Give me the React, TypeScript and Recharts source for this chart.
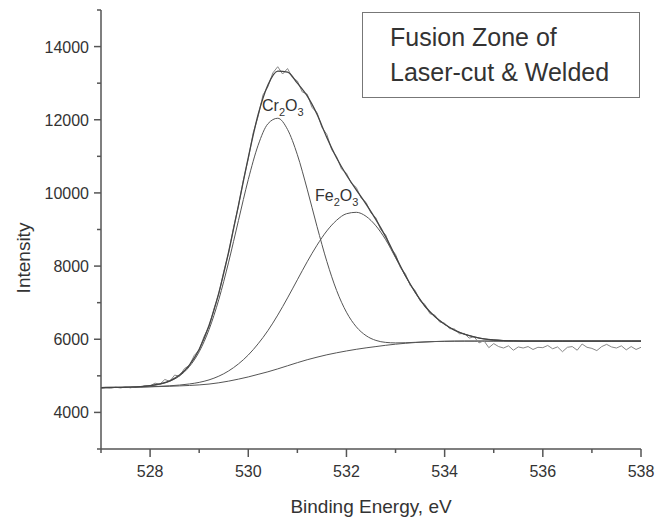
import { LineChart, Line, XAxis, YAxis, ReferenceDot } from "recharts"

// measured spectrum, 0.1 eV steps
const rawEnergy = [
  527.0, 527.1, 527.2, 527.3, 527.4, 527.5, 527.6, 527.7, 527.8, 527.9,
  528.0, 528.1, 528.2, 528.3, 528.4, 528.5, 528.6, 528.7, 528.8, 528.9,
  529.0, 529.1, 529.2, 529.3, 529.4, 529.5, 529.6, 529.7, 529.8, 529.9,
  530.0, 530.1, 530.2, 530.3, 530.4, 530.5, 530.6, 530.7, 530.8, 530.9,
  531.0, 531.1, 531.2, 531.3, 531.4, 531.5, 531.6, 531.7, 531.8, 531.9,
  532.0, 532.1, 532.2, 532.3, 532.4, 532.5, 532.6, 532.7, 532.8, 532.9,
  533.0, 533.1, 533.2, 533.3, 533.4, 533.5, 533.6, 533.7, 533.8, 533.9,
  534.0, 534.1, 534.2, 534.3, 534.4, 534.5, 534.6, 534.7, 534.8, 534.9,
  535.0, 535.1, 535.2, 535.3, 535.4, 535.5, 535.6, 535.7, 535.8, 535.9,
  536.0, 536.1, 536.2, 536.3, 536.4, 536.5, 536.6, 536.7, 536.8, 536.9,
  537.0, 537.1, 537.2, 537.3, 537.4, 537.5, 537.6, 537.7, 537.8, 537.9,
  538.0,
]
const rawIntensity = [
  4650, 4672, 4660, 4690, 4668, 4700, 4672, 4705, 4690, 4735,
  4725, 4800, 4770, 4900, 4850, 5020, 4990, 5200, 5280, 5560,
  5700, 6080, 6340, 6830, 7240, 7850, 8360, 9050, 9640, 10350,
  10930, 11640, 12090, 12680, 12900, 13280, 13450, 13250, 13400, 13150,
  13060, 12760, 12700, 12330, 12200, 11790, 11600, 11180, 10990, 10650,
  10540, 10260, 10150, 9860, 9740, 9450, 9320, 8990, 8850, 8490,
  8320, 7960, 7790, 7470, 7330, 7050, 6950, 6700, 6660, 6470,
  6440, 6290, 6280, 6150, 6160, 6030, 6070, 5900, 5960, 5770,
  5880, 5800, 5760, 5820, 5700, 5790, 5760, 5800, 5720, 5780,
  5770, 5830, 5740, 5790, 5660, 5780, 5800, 5700, 5870, 5780,
  5750, 5690, 5800, 5860, 5790, 5760, 5820, 5710, 5800, 5720,
  5780,
]

// fitted curves, 0.2 eV steps
const fitEnergy = [
  527.0, 527.2, 527.4, 527.6, 527.8, 528.0, 528.2, 528.4, 528.6, 528.8,
  529.0, 529.2, 529.4, 529.6, 529.8, 530.0, 530.2, 530.4, 530.6, 530.8,
  531.0, 531.2, 531.4, 531.6, 531.8, 532.0, 532.2, 532.4, 532.6, 532.8,
  533.0, 533.2, 533.4, 533.6, 533.8, 534.0, 534.2, 534.4, 534.6, 534.8,
  535.0, 535.2, 535.4, 535.6, 535.8, 536.0, 536.2, 536.4, 536.6, 536.8,
  537.0, 537.2, 537.4, 537.6, 537.8, 538.0,
]
const envelopeFit = [
  4680, 4682, 4685, 4691, 4704, 4730, 4777, 4863, 5021, 5294,
  5727, 6376, 7268, 8388, 9662, 10965, 12136, 12950, 13330, 13300,
  13000, 12650, 12150, 11514, 10955, 10490, 10085, 9693, 9268, 8799,
  8265, 7744, 7286, 6902, 6620, 6410, 6250, 6140, 6065, 6010,
  5980, 5963, 5955, 5950, 5950, 5950, 5950, 5950, 5950, 5950,
  5950, 5950, 5950, 5950, 5950, 5950,
]
const cr2o3Fit = [
  4680, 4682, 4685, 4691, 4703, 4727, 4770, 4850, 4998, 5253,
  5658, 6262, 7087, 8109, 9246, 10366, 11301, 11890, 12041, 11734,
  11043, 10104, 9083, 8128, 7332, 6739, 6340, 6098, 5968, 5914,
  5900, 5904, 5916, 5927, 5938, 5944, 5948, 5950, 5950, 5950,
  5950, 5950, 5950, 5950, 5950, 5950, 5950, 5950, 5950, 5950,
  5950, 5950, 5950, 5950, 5950, 5950,
]
const fe2o3Fit = [
  4680, 4682, 4684, 4687, 4693, 4703, 4714, 4728, 4748, 4778,
  4821, 4889, 4991, 5134, 5326, 5569, 5875, 6236, 6660, 7130,
  7626, 8117, 8571, 8961, 9253, 9431, 9470, 9360, 9100, 8720,
  8230, 7730, 7280, 6900, 6620, 6410, 6250, 6140, 6065, 6010,
  5980, 5963, 5955, 5950, 5950, 5950, 5950, 5950, 5950, 5950,
  5950, 5950, 5950, 5950, 5950, 5950,
]
const backgroundFit = [
  4680, 4682, 4684, 4687, 4692, 4700, 4707, 4715, 4725, 4737,
  4752, 4775, 4810, 4855, 4910, 4970, 5040, 5110, 5190, 5275,
  5360, 5440, 5510, 5575, 5630, 5680, 5725, 5765, 5800, 5835,
  5865, 5890, 5910, 5925, 5937, 5944, 5948, 5950, 5950, 5950,
  5950, 5950, 5950, 5950, 5950, 5950, 5950, 5950, 5950, 5950,
  5950, 5950, 5950, 5950, 5950, 5950,
]

const xTicks = [527, 528, 529, 530, 531, 532, 533, 534, 535, 536, 537, 538]
const yTicks = [3000, 4000, 5000, 6000, 7000, 8000, 9000, 10000, 11000, 12000, 13000, 14000, 15000]
const legendLines = ["Fusion Zone of", "Laser-cut & Welded"]

const FONT = "'Liberation Sans', Arial, Helvetica, sans-serif"
const AXIS = "#555"
const TEXT = "#333"

const toRows = (xs: number[], ys: number[]) => xs.map((x, i) => ({ energy: x, value: ys[i] }))

const XTick = (props: any) => {
  const { x, y, payload } = props
  const major = payload.value % 2 === 0
  const len = major ? 8 : 4
  return (
    <g>
      <line x1={x} x2={x} y1={y} y2={y + len} stroke={AXIS} strokeWidth={1.5} />
      {major && (
        <text x={x} y={y + 28} textAnchor="middle" fontSize={16} fontFamily={FONT} fill={TEXT}>
          {payload.value}
        </text>
      )}
    </g>
  )
}

const YTick = (props: any) => {
  const { x, y, payload } = props
  const major = payload.value % 2000 === 0
  const len = major ? 7 : 4
  return (
    <g>
      <line x1={x} x2={x - len} y1={y} y2={y} stroke={AXIS} strokeWidth={1.5} />
      {major && (
        <text x={x - len - 5} y={y + 6} textAnchor="end" fontSize={16} fontFamily={FONT} fill={TEXT}>
          {payload.value}
        </text>
      )}
    </g>
  )
}

const XTitle = (props: any) => {
  const vb = props.viewBox || { x: 101, y: 449, width: 540, height: 74 }
  return (
    <text x={vb.x + vb.width / 2} y={vb.y + 64} textAnchor="middle" fontSize={19} fontFamily={FONT} fill={TEXT}>
      Binding Energy, eV
    </text>
  )
}

const YTitle = () => {
  const cx = 23
  const cy = 258
  return (
    <text
      x={cx}
      y={cy}
      transform={`rotate(-90 ${cx} ${cy})`}
      textAnchor="middle"
      dominantBaseline="central"
      fontSize={19}
      fontFamily={FONT}
      fill={TEXT}
    >
      Intensity
    </text>
  )
}

const oxideLabel = (metal: string) => (props: any) => {
  const vb = props.viewBox || { x: 0, y: 0 }
  return (
    <text x={vb.x} y={vb.y} fontSize={16} fontFamily={FONT} fill={TEXT}>
      <tspan>{metal}</tspan>
      <tspan fontSize={11} dy={5}>2</tspan>
      <tspan dy={-5}>O</tspan>
      <tspan fontSize={11} dy={5}>3</tspan>
    </text>
  )
}

export default function App() {
  const raw = toRows(rawEnergy, rawIntensity)
  const envelope = toRows(fitEnergy, envelopeFit)
  const cr = toRows(fitEnergy, cr2o3Fit)
  const fe = toRows(fitEnergy, fe2o3Fit)
  const bg = toRows(fitEnergy, backgroundFit)

  return (
    <div style={{ position: "absolute", left: 0, top: 0, width: 662, height: 523, background: "#fff" }}>
      <LineChart width={662} height={523} margin={{ top: 10, right: 21, bottom: 0, left: 0 }}>
        <XAxis
          dataKey="energy"
          type="number"
          domain={[527, 538]}
          ticks={xTicks}
          interval={0}
          height={74}
          tickSize={0}
          tickMargin={0}
          tickLine={false}
          axisLine={{ stroke: AXIS, strokeWidth: 1.5 }}
          tick={<XTick />}
          label={XTitle}
          allowDataOverflow
        />
        <YAxis
          type="number"
          domain={[3000, 15000]}
          ticks={yTicks}
          interval={0}
          width={101}
          tickSize={0}
          tickMargin={0}
          tickLine={false}
          axisLine={{ stroke: AXIS, strokeWidth: 1.5 }}
          tick={<YTick />}
          label={YTitle}
          allowDataOverflow
        />
        <Line data={bg} dataKey="value" type="monotone" stroke="#555" strokeWidth={1} dot={false} isAnimationActive={false} />
        <Line data={fe} dataKey="value" type="monotone" stroke="#555" strokeWidth={1} dot={false} isAnimationActive={false} />
        <Line data={cr} dataKey="value" type="monotone" stroke="#555" strokeWidth={1} dot={false} isAnimationActive={false} />
        <Line data={raw} dataKey="value" type="linear" stroke="#888" strokeWidth={1} dot={false} isAnimationActive={false} />
        <Line data={envelope} dataKey="value" type="monotone" stroke="#444" strokeWidth={1.3} dot={false} isAnimationActive={false} />
        <ReferenceDot x={530.3} y={12212} r={1} fill="none" stroke="none" label={oxideLabel("Cr")} />
        <ReferenceDot x={531.38} y={9760} r={1} fill="none" stroke="none" label={oxideLabel("Fe")} />
      </LineChart>
      <div
        style={{
          position: "absolute",
          left: 362,
          top: 12,
          width: 276,
          height: 84,
          border: "1px solid #777",
          boxSizing: "content-box",
          fontFamily: FONT,
          fontSize: 25,
          lineHeight: "35px",
          color: TEXT,
          paddingLeft: 0,
        }}
      >
        <div style={{ paddingLeft: 27, paddingTop: 7 }}>
          {legendLines.map((t) => (
            <div key={t}>{t}</div>
          ))}
        </div>
      </div>
    </div>
  )
}
